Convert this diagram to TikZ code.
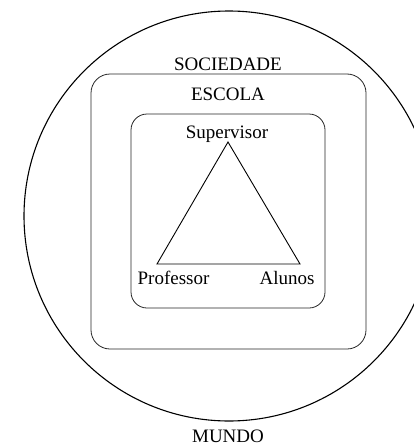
\documentclass[tikz,border=0pt]{standalone}
\usepackage{fontspec}
\setmainfont{Liberation Serif}
\begin{document}
\begin{tikzpicture}[x=1pt,y=-1pt,
  lbl/.style={font=\fontsize{19}{22}\selectfont, anchor=base, inner sep=0pt},
  boxa/.style={draw=black!85, line width=0.8pt, rounded corners=19pt, inner sep=0pt},
  boxb/.style={draw=black!85, line width=0.8pt, rounded corners=16pt, inner sep=0pt},
  ring/.style={draw, line width=1.1pt, circle, inner sep=0pt},
  tri/.style={line width=0.9pt}]
\useasboundingbox (0,0) rectangle (414,447);
\clip (0,0) rectangle (414,447);
\node[ring, minimum size=410pt] (mundo) at (229,216) {};
\node[boxa, minimum width=275pt, minimum height=275pt] (escola) at (228.5,211.5) {};
\node[boxb, minimum width=194pt, minimum height=194pt] (sala) at (228,211) {};
\node[lbl] (soc) at (228,70.7) {SOCIEDADE};
\node[lbl] (esc) at (228,100.5) {ESCOLA};
\node[lbl] (sup) at (227,138) {Supervisor};
\node[lbl] (prof) at (173.5,284) {Professor};
\node[lbl] (alu) at (287,284) {Alunos};
\node[lbl] (mun) at (228,442.5) {MUNDO};
\coordinate (ts) at (228,142);
\coordinate (tp) at (157,264);
\coordinate (ta) at (300,264);
\draw[tri] (ts) -- (tp) -- (ta) -- cycle;
\end{tikzpicture}
\end{document}
